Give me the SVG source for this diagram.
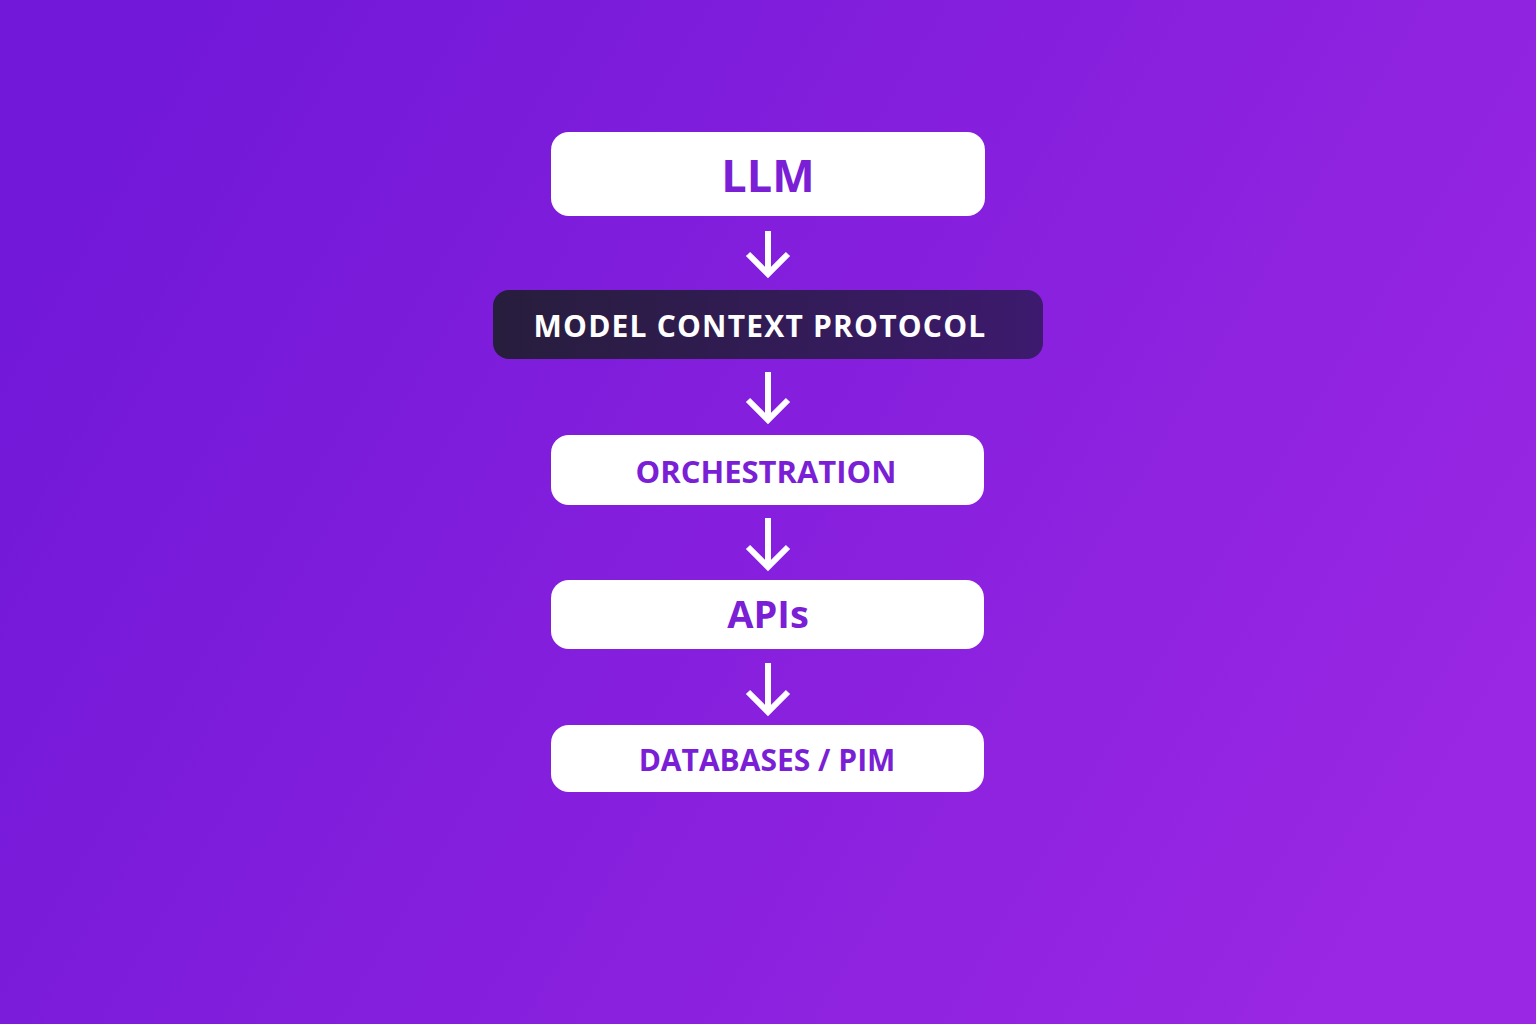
<svg xmlns="http://www.w3.org/2000/svg" width="1536" height="1024" viewBox="0 0 1536 1024">
<defs>
<linearGradient id="bg" x1="0" y1="0.3" x2="1" y2="0.7">
<stop offset="0" stop-color="#7218d8"/>
<stop offset="1" stop-color="#9a27e3"/>
</linearGradient>
<linearGradient id="dark" x1="0" y1="0" x2="1" y2="0">
<stop offset="0" stop-color="#271d3c"/>
<stop offset="1" stop-color="#3d1a6e"/>
</linearGradient>
<style>
.box{fill:#ffffff}
.lbl{font-family:"Open Sans","Noto Sans","DejaVu Sans",sans-serif;font-weight:700;fill:#7a1fd6;text-anchor:middle}
.arrow{fill:none;stroke:#ffffff;stroke-width:6;stroke-linecap:butt;stroke-linejoin:miter}
</style>
</defs>
<rect width="1536" height="1024" fill="url(#bg)"/>
<g id="node-llm">
<rect class="box" x="551" y="132" width="434" height="84" rx="18"/>
<text class="lbl" x="768" y="192" font-size="45">LLM</text>
</g>
<g id="node-mcp">
<rect x="493" y="290" width="550" height="69" rx="16" fill="url(#dark)"/>
<text class="lbl" x="760" y="337" font-size="30" letter-spacing="1.2" style="fill:#ffffff">MODEL CONTEXT PROTOCOL</text>
</g>
<g id="node-orchestration">
<rect class="box" x="551" y="435" width="433" height="70" rx="18"/>
<text class="lbl" x="766" y="483" font-size="31">ORCHESTRATION</text>
</g>
<g id="node-apis">
<rect class="box" x="551" y="580" width="433" height="69" rx="18"/>
<text class="lbl" x="768" y="628" font-size="38">APIs</text>
</g>
<g id="node-databases">
<rect class="box" x="551" y="725" width="433" height="67" rx="18"/>
<text class="lbl" x="767" y="771" font-size="30">DATABASES / PIM</text>
</g>
<g id="connectors">
<path class="arrow" d="M768 231 V273 M748 254 L768 274 L788 254"/>
<path class="arrow" d="M768 372 V419 M748 400 L768 420 L788 400"/>
<path class="arrow" d="M768 518 V566 M748 547 L768 567 L788 547"/>
<path class="arrow" d="M768 663 V711 M748 692 L768 712 L788 692"/>
</g>
</svg>
